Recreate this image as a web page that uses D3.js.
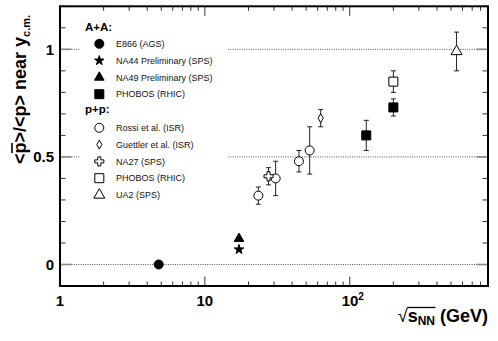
<!DOCTYPE html>
<html>
<head>
<meta charset="utf-8">
<script src="https://cdn.jsdelivr.net/npm/d3@7"></script>
<style>
  body { margin: 0; background: #fff; }
  text { font-family: "Liberation Sans", Arial, Helvetica, sans-serif; }
</style>
</head>
<body>
<script>
// ---- data ----
var aaNames = ["E866 (AGS)", "NA44 Preliminary (SPS)", "NA49 Preliminary (SPS)", "PHOBOS (RHIC)"];
var ppNames = ["Rossi et al. (ISR)", "Guettler et al. (ISR)", "NA27 (SPS)", "PHOBOS (RHIC)", "UA2 (SPS)"];

var e866 = {x: [4.8], y: [0.0], err: [0]};
var na44 = {x: [17.2], y: [0.07], err: [0]};
var na49 = {x: [17.2], y: [0.12], err: [0]};
var phobosAA = {x: [130, 200], y: [0.60, 0.73], err: [0.07, 0.04]};
var rossi = {x: [23.4, 30.8, 44.6, 52.9], y: [0.32, 0.40, 0.48, 0.53], err: [0.04, 0.08, 0.05, 0.11]};
var guettler = {x: [63], y: [0.68], err: [0.04]};
var na27 = {x: [27.5], y: [0.41], err: [0.04]};
var phobosPP = {x: [200], y: [0.85], err: [0.05]};
var ua2 = {x: [546], y: [0.99], err: [0.09]};

var yMajor = [0, 0.5, 1];
var xMajor = [1, 10, 100];
var refLines = [0, 0.5, 1];

// ---- layout ----
var W = 498, H = 341;
var margin = {top: 6.3, right: 10, bottom: 55, left: 60};

var x = d3.scaleLog().domain([1, 900]).range([margin.left, W - margin.right]);
var y = d3.scaleLinear().domain([-0.1, 1.2]).range([H - margin.bottom, margin.top]);

var svg = d3.select("body").append("svg")
    .attr("width", W)
    .attr("height", H);

// marker styles
var styles = [
  {type: d3.symbolCircle, size: 64, fill: "#000"},
  {type: d3.symbolStar, size: 28, fill: "#000"},
  {type: d3.symbolTriangle, size: 40, fill: "#000"},
  {type: d3.symbolSquare, size: 81, fill: "#000"},
  {type: d3.symbolCircle, size: 64, fill: "#fff"},
  {type: d3.symbolDiamond, size: 23, fill: "#fff"},
  {type: d3.symbolCross, size: 46, fill: "#fff"},
  {type: d3.symbolSquare, size: 81, fill: "#fff"},
  {type: d3.symbolTriangle, size: 52, fill: "#fff"}
];
var sets = [e866, na44, na49, phobosAA, rossi, guettler, na27, phobosPP, ua2];

// reference dotted lines
svg.append("g").selectAll("line")
    .data(refLines)
  .enter().append("line")
    .attr("x1", x.range()[0]).attr("x2", x.range()[1])
    .attr("y1", function(d) { return y(d); })
    .attr("y2", function(d) { return y(d); })
    .attr("stroke", "#555")
    .attr("stroke-width", 1)
    .attr("stroke-dasharray", "1,1.3");

// legend (white box covers the lines)
var leg = svg.append("g");
leg.append("rect")
    .attr("x", 80).attr("y", 12).attr("width", 148).attr("height", 194)
    .attr("fill", "#fff");

var rowY = function(i) { return 27 + i * 16.8; };
leg.append("text").attr("x", 85).attr("y", rowY(0) + 4)
    .attr("font-size", 11.5).attr("font-weight", "bold").text("A+A:");
leg.append("text").attr("x", 85).attr("y", rowY(5) + 2)
    .attr("font-size", 11.5).attr("font-weight", "bold").text("p+p:");

var legendItems = aaNames.map(function(n, i) { return {name: n, row: i + 1, st: styles[i]}; })
  .concat(ppNames.map(function(n, i) { return {name: n, row: i + 6, st: styles[i + 4]}; }));

legendItems.forEach(function(d) {
  leg.append("path")
      .attr("d", d3.symbol().type(d.st.type).size(d.st.size)())
      .attr("transform", "translate(99.3," + rowY(d.row) + ")")
      .attr("fill", d.st.fill)
      .attr("stroke", "#000")
      .attr("stroke-width", 1);
  leg.append("text")
      .attr("x", 116).attr("y", rowY(d.row) + 3.2)
      .attr("font-size", 9)
      .attr("fill", "#111")
      .text(d.name);
});

// data points with error bars
var pts = svg.append("g");
sets.forEach(function(s, k) {
  var st = styles[k];
  s.x.forEach(function(xv, i) {
    var cx = x(xv), cy = y(s.y[i]), e = s.err[i];
    if (e > 0) {
      var g = pts.append("g").attr("stroke", "#222").attr("stroke-width", 1);
      g.append("line").attr("x1", cx).attr("x2", cx).attr("y1", y(s.y[i] - e)).attr("y2", y(s.y[i] + e));
      g.append("line").attr("x1", cx - 2.5).attr("x2", cx + 2.5).attr("y1", y(s.y[i] - e)).attr("y2", y(s.y[i] - e));
      g.append("line").attr("x1", cx - 2.5).attr("x2", cx + 2.5).attr("y1", y(s.y[i] + e)).attr("y2", y(s.y[i] + e));
    }
    pts.append("path")
        .attr("d", d3.symbol().type(st.type).size(st.size)())
        .attr("transform", "translate(" + cx + "," + cy + ")")
        .attr("fill", st.fill)
        .attr("stroke", "#000")
        .attr("stroke-width", 1);
  });
});

// ticks (inward on all four sides)
var x0 = x.range()[0], x1 = x.range()[1], y0 = y.range()[0], y1 = y.range()[1];
var ticks = svg.append("g").attr("stroke", "#333").attr("stroke-width", 1);
var xTicks = x.ticks().filter(function(t) { return t > 1 && t < 900; });
xTicks.forEach(function(t) {
  var major = xMajor.indexOf(t) >= 0;
  var len = major ? 9.5 : 4.5;
  ticks.append("line").attr("x1", x(t)).attr("x2", x(t)).attr("y1", y0).attr("y2", y0 - len);
  ticks.append("line").attr("x1", x(t)).attr("x2", x(t)).attr("y1", y1).attr("y2", y1 + len);
});
d3.range(-1, 13).map(function(i) { return i / 10; }).forEach(function(t) {
  var major = yMajor.some(function(m) { return Math.abs(m - t) < 1e-9; });
  var len = major ? 11.5 : 5.5;
  var c = major ? "#888" : "#333";
  var w = major ? 1.6 : 1;
  ticks.append("line").attr("x1", x0).attr("x2", x0 + len).attr("y1", y(t)).attr("y2", y(t))
      .attr("stroke", c).attr("stroke-width", w);
  ticks.append("line").attr("x1", x1).attr("x2", x1 - len).attr("y1", y(t)).attr("y2", y(t))
      .attr("stroke", c).attr("stroke-width", w);
});

// frame
svg.append("rect")
    .attr("x", x0).attr("y", y1)
    .attr("width", x1 - x0).attr("height", y0 - y1)
    .attr("fill", "none")
    .attr("stroke", "#000")
    .attr("stroke-width", 2);

// tick labels
var lab = svg.append("g").attr("font-size", 15).attr("font-weight", "bold");
lab.append("text").attr("x", x(1)).attr("y", 306).attr("text-anchor", "middle").text("1");
lab.append("text").attr("x", x(10)).attr("y", 306).attr("text-anchor", "middle").text("10");
var t100 = lab.append("text").attr("x", x(100) + 3).attr("y", 306).attr("text-anchor", "middle");
t100.append("tspan").text("10");
t100.append("tspan").attr("font-size", 10).attr("dy", -6).text("2");

lab.selectAll(".yl")
    .data(yMajor)
  .enter().append("text")
    .attr("class", "yl")
    .attr("x", 54)
    .attr("y", function(d) { return y(d); })
    .attr("dy", "0.36em")
    .attr("text-anchor", "end")
    .text(function(d) { return d; });

// x axis title: sqrt(s_NN) (GeV)
var xt = svg.append("text")
    .attr("x", 488).attr("y", 322)
    .attr("text-anchor", "end")
    .attr("font-size", 18).attr("font-weight", "bold");
xt.append("tspan").attr("font-weight", "normal").text("\u221A");
xt.append("tspan").text("s");
xt.append("tspan").attr("font-size", 12).attr("dy", 3).text("NN");
xt.append("tspan").attr("dy", -3).text(" (GeV)");
var sx0 = xt.node().getEndPositionOfChar(0).x;
var sx1 = xt.node().getEndPositionOfChar(3).x;
svg.append("line")
    .attr("x1", sx0 - 0.5).attr("x2", sx1 + 0.5)
    .attr("y1", 307.5).attr("y2", 307.5)
    .attr("stroke", "#000").attr("stroke-width", 1.3);

// y axis title
var yg = svg.append("g").attr("transform", "translate(26,164) rotate(-90)");
var yt = yg.append("text")
    .attr("x", 0).attr("y", 0)
    .attr("font-size", 18).attr("font-weight", "bold");
yt.append("tspan").text("<p>/<p> near y");
yt.append("tspan").attr("font-size", 11).attr("dy", 4).text("c.m.");
var px0 = yt.node().getStartPositionOfChar(1).x;
var px1 = yt.node().getEndPositionOfChar(1).x;
yg.append("line")
    .attr("x1", px0 + 0.5).attr("x2", px1 - 0.5)
    .attr("y1", -14).attr("y2", -14)
    .attr("stroke", "#000").attr("stroke-width", 1.6);
</script>
</body>
</html>
